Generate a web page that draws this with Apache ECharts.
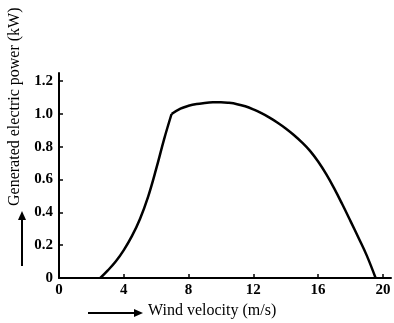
<!DOCTYPE html>
<html>
<head>
<meta charset="utf-8">
<script src="https://cdn.jsdelivr.net/npm/echarts@6/dist/echarts.min.js"></script>
<style>
  html, body { margin: 0; padding: 0; background: #fff; }
  #chart { width: 394px; height: 323px; }
</style>
</head>
<body>
<div id="chart"></div>
<script>
// wind velocity (m/s) vs generated power (kW)
var windSpeed = [2.55, 3.0, 3.5, 4.0, 4.5, 5.0, 5.5, 6.0, 6.5, 6.95,
  7.5, 8.0, 8.5, 9.0, 9.5, 10.0, 10.5, 11.0, 11.5, 12.0, 12.5, 13.0, 13.5, 14.0,
  14.5, 15.0, 15.5, 16.0, 16.5, 17.0, 17.5, 18.0, 18.5, 19.0, 19.55];
var power = [0, 0.045, 0.1, 0.17, 0.255, 0.36, 0.495, 0.665, 0.85, 1.0,
  1.033, 1.05, 1.061, 1.067, 1.071, 1.072, 1.068, 1.06, 1.047, 1.028, 1.005, 0.978, 0.947, 0.912,
  0.872, 0.827, 0.775, 0.71, 0.633, 0.545, 0.448, 0.347, 0.244, 0.138, 0];
// the curve has a sharp corner where rated power is reached
var cornerIndex = 9;
var xTicks = [0, 4, 8, 12, 16, 20];
var yTicks = [0, 0.2, 0.4, 0.6, 0.8, 1.0, 1.2];

var fontSerif = '"Liberation Serif", "DejaVu Serif", serif';

var points = windSpeed.map(function (x, i) { return [x, power[i]]; });
var curveStyle = { color: '#000', width: 2.5 };

var chart = echarts.init(document.getElementById('chart'));
var option = {
  animation: false,
  backgroundColor: '#fff',
  grid: { left: 59, right: 3, top: 73, bottom: 45 },
  xAxis: {
    type: 'value',
    min: 0,
    max: 20.5,
    axisLine: { lineStyle: { color: '#000', width: 2 } },
    axisTick: { inside: true, length: 4, lineStyle: { color: '#000', width: 1.5 }, customValues: xTicks },
    axisLabel: {
      customValues: xTicks,
      color: '#000', fontFamily: fontSerif, fontWeight: 'bold', fontSize: 15, margin: 5
    },
    splitLine: { show: false }
  },
  yAxis: {
    type: 'value',
    min: 0,
    max: 1.25,
    axisLine: { show: true, lineStyle: { color: '#000', width: 2 } },
    axisTick: { show: true, inside: true, length: 4, lineStyle: { color: '#000', width: 1.5 }, customValues: yTicks },
    axisLabel: {
      customValues: yTicks,
      color: '#000', fontFamily: fontSerif, fontWeight: 'bold', fontSize: 15, margin: 6,
      formatter: function (v) { return v === 0 ? '0' : v.toFixed(1); }
    },
    splitLine: { show: false }
  },
  series: [
    {
      type: 'line',
      data: points.slice(0, cornerIndex + 1),
      showSymbol: false,
      smooth: 0.4,
      lineStyle: curveStyle
    },
    {
      type: 'line',
      data: points.slice(cornerIndex),
      showSymbol: false,
      smooth: 0.4,
      lineStyle: curveStyle
    }
  ],
  graphic: [
    {
      type: 'text',
      left: 148, top: 303,
      style: { text: 'Wind velocity (m/s)', fill: '#000', font: '16px ' + fontSerif }
    },
    { type: 'line', shape: { x1: 88, y1: 313, x2: 136, y2: 313 }, style: { stroke: '#000', lineWidth: 2 } },
    { type: 'polygon', shape: { points: [[134, 309], [143, 313], [134, 317]] }, style: { fill: '#000' } },
    {
      type: 'text',
      x: 7, y: 206,
      rotation: Math.PI / 2,
      style: { text: 'Generated electric power (kW)', fill: '#000', font: '16px ' + fontSerif }
    },
    { type: 'line', shape: { x1: 22, y1: 266, x2: 22, y2: 218 }, style: { stroke: '#000', lineWidth: 2 } },
    { type: 'polygon', shape: { points: [[18, 220], [22, 211], [26, 220]] }, style: { fill: '#000' } }
  ]
};
chart.setOption(option);
</script>
</body>
</html>
